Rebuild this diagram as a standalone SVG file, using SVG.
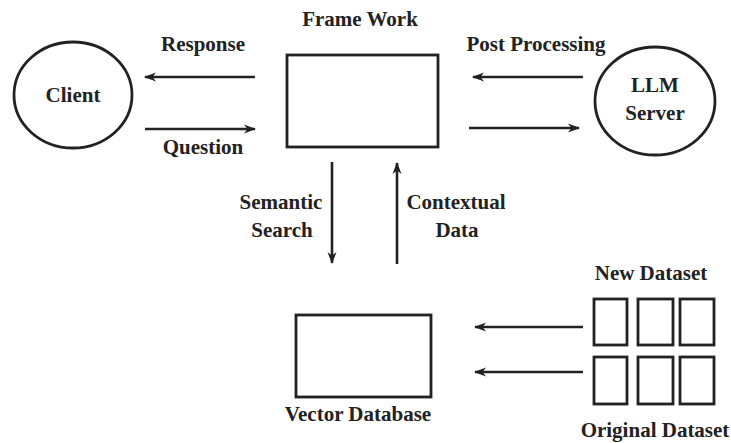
<svg xmlns="http://www.w3.org/2000/svg" width="731" height="443" viewBox="0 0 731 443">
<defs>
<marker id="ah" markerWidth="12" markerHeight="10" refX="11" refY="5" orient="auto" markerUnits="userSpaceOnUse">
<path d="M0,0.5 L12,5 L0,9.5 L3.5,5 Z" fill="#222"/>
</marker>
<style>
text{font-family:"Liberation Serif","Times New Roman",serif;font-weight:bold;font-size:21px;fill:#222;text-anchor:middle}
.n{fill:none;stroke:#222;stroke-width:2.8}
.c line{stroke:#222;stroke-width:2.6;marker-end:url(#ah)}
</style>
</defs>
<rect width="731" height="443" fill="#fff"/>
<g id="client"><ellipse class="n" cx="73" cy="95" rx="59" ry="53"/><text x="73" y="102">Client</text></g>
<g id="framework"><rect class="n" x="287" y="55" width="151" height="92"/><text x="360" y="26">Frame Work</text></g>
<g id="llm"><ellipse class="n" cx="655" cy="101" rx="60" ry="54"/><text x="655" y="92">LLM</text><text x="655" y="120">Server</text></g>
<g id="vectordb"><rect class="n" x="296" y="315" width="135" height="82"/><text x="358" y="421">Vector Database</text></g>
<g id="newdataset"><rect class="n" x="594" y="299" width="33" height="46"/><rect class="n" x="638" y="299" width="35" height="46"/><rect class="n" x="680" y="299" width="34" height="46"/><text x="651" y="280">New Dataset</text></g>
<g id="origdataset"><rect class="n" x="594" y="357" width="33" height="47"/><rect class="n" x="638" y="357" width="35" height="47"/><rect class="n" x="680" y="357" width="34" height="47"/><text x="655" y="437">Original Dataset</text></g>
<g id="connectors" class="c">
<line x1="255" y1="77" x2="145" y2="77"/>
<line x1="145" y1="129" x2="255" y2="129"/>
<line x1="583" y1="77" x2="473" y2="77"/>
<line x1="469" y1="128" x2="579" y2="128"/>
<line x1="332" y1="162" x2="332" y2="263"/>
<line x1="397" y1="264" x2="397" y2="163"/>
<line x1="583" y1="327" x2="475" y2="327"/>
<line x1="583" y1="372" x2="475" y2="372"/>
</g>
<g id="labels">
<text x="203" y="51">Response</text>
<text x="203" y="154">Question</text>
<text x="536" y="51">Post Processing</text>
<text x="281" y="209">Semantic</text>
<text x="282" y="237">Search</text>
<text x="456" y="209">Contextual</text>
<text x="457" y="237">Data</text>
</g>
</svg>
